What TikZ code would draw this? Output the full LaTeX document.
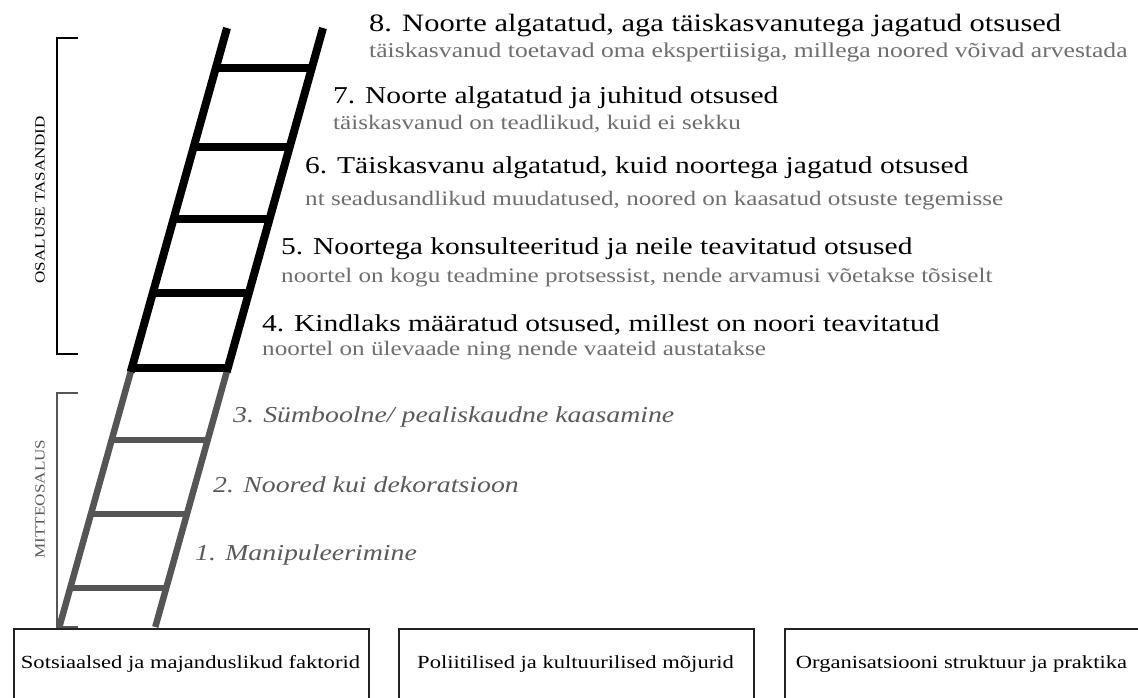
\documentclass[tikz,border=0pt]{standalone}
\usepackage{fontspec}
\setmainfont{Liberation Serif}[FakeStretch=1.22]
\definecolor{subgray}{HTML}{6E6E6E}
\definecolor{itemgray}{HTML}{5A5A5A}
\definecolor{rungray}{HTML}{555555}
\definecolor{boxline}{HTML}{222222}
\begin{document}
\begin{tikzpicture}[x=1pt,y=-1pt,
  titletext/.style={anchor=base west, inner sep=0pt, font=\fontsize{24.2}{28}\selectfont, text=black},
  subtext/.style={anchor=base west, inner sep=0pt, font=\fontsize{20.6}{24}\selectfont, text=subgray},
  lowitem/.style={anchor=base west, inner sep=0pt, font=\fontsize{22.8}{26}\selectfont\itshape, text=itemgray},
  blackbar/.style={line width=8pt, black},
  graybar/.style={line width=6.5pt, rungray},
  bracketline/.style={line width=1.6pt},
  sidelabel/.style={rotate=90, inner sep=0pt, font=\fontsize{14}{16}\selectfont},
  factorbox/.style={draw=boxline, line width=1.5pt, anchor=north west, minimum width=355pt, minimum height=90pt, inner sep=0pt},
  factortext/.style={anchor=base, inner sep=0pt, font=\fontsize{18.5}{22}\selectfont, text=black}
]
\useasboundingbox (0,0) rectangle (1138,697);
\clip (0,0) rectangle (1138,697);
\fill[white] (0,0) rectangle (1138,697);

% ladder: gray lower part
\draw[graybar] (130.7,372) -- (59.3,627);
\draw[graybar] (226.7,372) -- (155.3,627);
\foreach \y in {440,514,588}{
  \pgfmathsetmacro\lx{227-0.28*(\y-28)}
  \pgfmathsetmacro\rx{\lx+96}
  \draw[graybar] (\lx,\y) -- (\rx,\y);
}
% ladder: black upper part
\draw[blackbar] (227,28) -- (130.7,372);
\draw[blackbar] (323,28) -- (226.7,372);
\foreach \y in {68,147,219,293,368}{
  \pgfmathsetmacro\lx{227-0.28*(\y-28)}
  \pgfmathsetmacro\rx{\lx+96}
  \draw[blackbar] (\lx,\y) -- (\rx,\y);
}

% brackets
\draw[bracketline, black] (78,38) -- (57,38) -- (57,354) -- (78,354);
\node[sidelabel, text=black] (osal) at (40,200) {OSALUSE TASANDID};
\draw[bracketline, rungray, line width=1.3pt] (78,393) -- (57,393) -- (57,627) -- (78,627);
\node[sidelabel, text=itemgray] (mitte) at (40,499) {MITTEOSALUS};

% levels
\node[titletext, font=\fontsize{25}{29}\selectfont] (t8) at (369,31) {8. Noorte algatatud, aga täiskasvanutega jagatud otsused};
\node[subtext, font=\fontsize{21}{24}\selectfont] (s8) at (369,57) {täiskasvanud toetavad oma ekspertiisiga, millega noored võivad arvestada};
\node[titletext] (t7) at (333,103) {7. Noorte algatatud ja juhitud otsused};
\node[subtext] (s7) at (333,129) {täiskasvanud on teadlikud, kuid ei sekku};
\node[titletext] (t6) at (305,173) {6. Täiskasvanu algatatud, kuid noortega jagatud otsused};
\node[subtext] (s6) at (305,205) {nt seadusandlikud muudatused, noored on kaasatud otsuste tegemisse};
\node[titletext] (t5) at (281,254) {5. Noortega konsulteeritud ja neile teavitatud otsused};
\node[subtext] (s5) at (281,282) {noortel on kogu teadmine protsessist, nende arvamusi võetakse tõsiselt};
\node[titletext] (t4) at (262,331) {4. Kindlaks määratud otsused, millest on noori teavitatud};
\node[subtext] (s4) at (262,355) {noortel on ülevaade ning nende vaateid austatakse};
\node[lowitem] (l3) at (233,422) {3. Sümboolne/ pealiskaudne kaasamine};
\node[lowitem] (l2) at (213,492) {2. Noored kui dekoratsioon};
\node[lowitem] (l1) at (195,560) {1. Manipuleerimine};

% factor boxes
\node[factorbox] (b1) at (13,628) {};
\node[factorbox] (b2) at (398,628) {};
\node[factorbox] (b3) at (784,628) {};
\node[factortext] (f1) at (190.5,668) {Sotsiaalsed ja majanduslikud faktorid};
\node[factortext] (f2) at (575.5,668) {Poliitilised ja kultuurilised mõjurid};
\node[factortext] (f3) at (961.5,668) {Organisatsiooni struktuur ja praktika};
\end{tikzpicture}
\end{document}
